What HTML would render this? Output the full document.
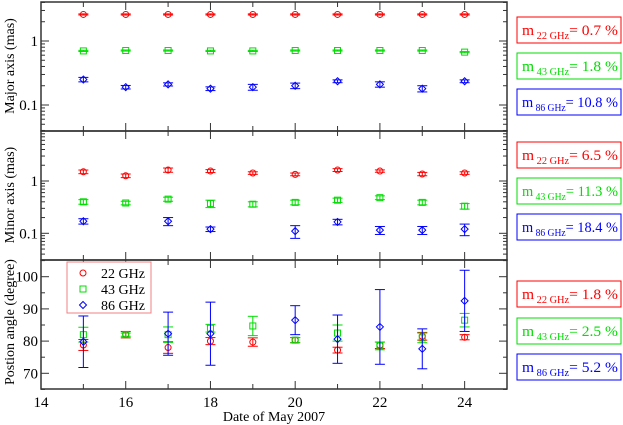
<!DOCTYPE html>
<html><head><meta charset="utf-8"><style>
body{margin:0;background:#fff}svg{display:block}
text{font-family:"Liberation Serif",serif}
</style></head><body>
<svg id="c" width="623" height="425"></svg>
<script>
const days=[15,16,17,18,19,20,21,22,23,24];
const maj22=[2.6,2.6,2.6,2.6,2.6,2.6,2.6,2.6,2.6,2.6];
const maj43=[0.7,0.71,0.71,0.7,0.7,0.71,0.71,0.71,0.71,0.67];
const maj86=[0.25,0.19,0.21,0.18,0.19,0.2,0.235,0.21,0.18,0.235];
const maj86e=[0.02,0.012,0.012,0.012,0.02,0.02,0.012,0.02,0.02,0.012];
const min22=[1.5,1.26,1.62,1.55,1.42,1.34,1.62,1.55,1.36,1.42];
const min22e=[0.12,0.1,0.15,0.1,0.08,0.08,0.1,0.08,0.1,0.08];
const min43=[0.4,0.38,0.45,0.37,0.36,0.39,0.43,0.48,0.39,0.33];
const min43e=[0.04,0.03,0.04,0.06,0.04,0.04,0.04,0.04,0.04,0.04];
const min86=[0.17,null,0.17,0.12,null,0.11,0.165,0.115,0.115,0.12];
const min86e=[0.02,0,0.03,0.012,0,0.03,0.02,0.02,0.02,0.03];
const pa22=[78.8,82,78,80,79.7,80.3,77.2,78.7,81.5,81.2];
const pa22e=[1.7,1,1.8,1.1,1.3,0.8,0.9,1,1.2,0.8];
const pa43=[82,82,82,84,84.7,80.3,82.5,78.5,81,86.5];
const pa43e=[2.3,0.5,2.4,1.2,3,0.8,2.5,1.2,1.5,2.1];
const pa86=[79.8,null,82.3,82.3,null,86.5,80.6,84.4,77.6,92.5];
const pa86e=[8,0,6.7,9.8,0,4.5,7.5,11.6,6.2,9.5];
const xTicks=[14,16,18,20,22,24];
const paTicks=[70,80,90,100];
const boxes=[["0.7","1.8","10.8"],["6.5","11.3","18.4"],["1.8","2.5","5.2"]];

const NS="http://www.w3.org/2000/svg",svg=document.getElementById('c');
const L=41,R=507;
const X=d=>L+(d-14)*(R-L)/11;
function el(t,a,p){const e=document.createElementNS(NS,t);for(const k in a)e.setAttribute(k,a[k]);(p||svg).appendChild(e);return e;}
const panels=[
 {top:2,bot:131,y:v=>41-64*Math.log10(v),name:'major-axis-panel'},
 {top:131,bot:260,y:v=>181-52.3*Math.log10(v),name:'minor-axis-panel'},
 {top:260,bot:389,y:v=>276.7+(100-v)*3.22,name:'position-angle-panel'}];
const cols=['#ff0000','#00dd00','#0000ff'];
function marker(g,k,x,y,c){
 if(k==0)el('circle',{cx:x,cy:y,r:3,fill:'none',stroke:c},g);
 else if(k==1)el('rect',{x:x-3,y:y-3,width:6,height:6,fill:'none',stroke:c},g);
 else el('polygon',{points:`${x},${y-3.5} ${x+3.5},${y} ${x},${y+3.5} ${x-3.5},${y}`,fill:'none',stroke:c},g);
}
function series(p,k,vals,errs,name){
 const g=el('g',{});
 
 
 vals.forEach((v,i)=>{if(v==null)return;const x=X(days[i]),c=cols[k];
  const e=errs?errs[i]:v*0.02;
  const y1=p.y(v+e),y2=p.y(Math.max(v-e,1e-4)),y=p.y(v);
  el('line',{x1:x,x2:x,y1:y1,y2:y2,stroke:c},g);
  el('line',{x1:x-5,x2:x+5,y1:y1,y2:y1,stroke:c},g);
  el('line',{x1:x-5,x2:x+5,y1:y2,y2:y2,stroke:c},g);
  marker(g,k,x,y,c);});
}
panels.forEach((p,pi)=>{
 const g=el('g',{});
 
 
 el('rect',{x:L,y:p.top,width:R-L,height:p.bot-p.top,fill:'none',stroke:'#333','stroke-width':1.5},g);
 for(let d=14;d<=25;d++){const x=X(d),ln=d%2?5:8;
  el('line',{x1:x,x2:x,y1:p.bot,y2:p.bot-ln,stroke:'#333'},g);
  el('line',{x1:x,x2:x,y1:p.top,y2:p.top+ln,stroke:'#333'},g);}
 if(pi<2){
  for(let e=-2;e<=1;e++)for(let m=1;m<10;m++){const v=m*Math.pow(10,e),y=p.y(v);
   if(y<p.top||y>p.bot)continue;const ln=m==1?8:4;
   el('line',{x1:L,x2:L+ln,y1:y,y2:y,stroke:'#333'},g);
   el('line',{x1:R,x2:R-ln,y1:y,y2:y,stroke:'#333'},g);
   if(m==1){const t=el('text',{x:L-3,y:y+5,'text-anchor':'end','font-size':15},g);t.textContent=v>=1?'1':'0.1';}}
 } else {
  for(let v=65;v<=105;v+=5){const y=p.y(v),ln=v%10?4:8;
   el('line',{x1:L,x2:L+ln,y1:y,y2:y,stroke:'#333'},g);
   el('line',{x1:R,x2:R-ln,y1:y,y2:y,stroke:'#333'},g);}
  paTicks.forEach(v=>{const t=el('text',{x:L-3,y:p.y(v)+5,'text-anchor':'end','font-size':15},g);t.textContent=v;});
  xTicks.forEach(d=>{const t=el('text',{x:X(d),y:407,'text-anchor':'middle','font-size':15},g);t.textContent=d;});
 }
 const by=[[17,53,89],[142,178,214],[281,318,354]][pi];
 ['22','43','86'].forEach((f,k)=>{const bg=el('g',{});
  
  
  el('rect',{x:517,y:by[k],width:104,height:26,fill:'#fff',stroke:cols[k]},bg);
  const t=el('text',{x:522,y:by[k]+18,fill:cols[k],'font-size':15,textLength:96,lengthAdjust:'spacingAndGlyphs'},bg);
  t.innerHTML=`m<tspan font-size="10" dy="4"> ${f} GHz</tspan><tspan dy="-4">= ${boxes[pi][k]} %</tspan>`;});
});
series(panels[0],0,maj22,null,'major-22ghz');
series(panels[0],1,maj43,null,'major-43ghz');
series(panels[0],2,maj86,maj86e,'major-86ghz');
series(panels[1],0,min22,min22e,'minor-22ghz');
series(panels[1],1,min43,min43e,'minor-43ghz');
series(panels[1],2,min86,min86e,'minor-86ghz');
series(panels[2],0,pa22,pa22e,'pa-22ghz');
series(panels[2],1,pa43,pa43e,'pa-43ghz');
series(panels[2],2,pa86,pa86e,'pa-86ghz');
[['Major axis (mas)',66,'y-title-major'],['Minor axis (mas)',195,'y-title-minor'],['Postion angle (degree)',322,'y-title-pa']].forEach(a=>{
 const t=el('text',{x:0,y:0,transform:`translate(14,${a[1]}) rotate(-90)`,'text-anchor':'middle','font-size':14});
 t.textContent=a[0];});
const xt=el('text',{x:274,y:421,'text-anchor':'middle','font-size':14});xt.textContent='Date of May 2007';


const lg=el('g',{});


el('rect',{x:67,y:262,width:84,height:51,fill:'#fff',stroke:'#f08080'},lg);
['22 GHz','43 GHz','86 GHz'].forEach((s,k)=>{const y=273+k*16;marker(lg,k,83,y,cols[k]);
 const t=el('text',{x:101,y:y+5,'font-size':14},lg);t.textContent=s;});
</script>
</body></html>
